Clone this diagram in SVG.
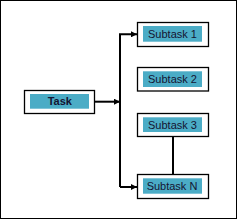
<svg xmlns="http://www.w3.org/2000/svg" width="237" height="219" viewBox="0 0 237 219">
<defs>
<style>
.box{fill:#fff;stroke:#000;stroke-width:1.3}
.fill{fill:#4BACC6}
.lbl{font-family:"Liberation Sans",Arial,sans-serif;font-size:11px;fill:#141432;text-anchor:middle}
.ln{fill:none;stroke:#000;stroke-width:2}
</style>
<marker id="ah" viewBox="0 0 6 6" refX="6" refY="3" markerWidth="6" markerHeight="6" markerUnits="userSpaceOnUse" orient="auto">
<path d="M0,0 L6,3 L0,6 z" fill="#000"/>
</marker>
</defs>
<rect x="0.5" y="0.5" width="236" height="218" fill="#fff" stroke="#000" stroke-width="1"/>
<g id="connectors">
<path class="ln" d="M94.5,101.7 H120" marker-end="url(#ah)"/>
<path class="ln" d="M120,187 V34.3 H137" marker-end="url(#ah)"/>
<path class="ln" d="M120,187 H137" marker-end="url(#ah)"/>
<path class="ln" d="M173,136.5 V174.5"/>
</g>
<g id="task">
<rect class="box" x="24.5" y="90.5" width="70" height="23"/>
<rect class="fill" x="30" y="94" width="59" height="14.7"/>
<text class="lbl" x="59.8" y="104.5" style="font-weight:bold;font-size:11px">Task</text>
</g>
<g id="subtask1">
<rect class="box" x="137.5" y="22.5" width="71" height="24"/>
<rect class="fill" x="143" y="26" width="59" height="15.7"/>
<text class="lbl" x="172.5" y="37.5">Subtask 1</text>
</g>
<g id="subtask2">
<rect class="box" x="137.5" y="67.5" width="71" height="23.5"/>
<rect class="fill" x="143" y="71.3" width="59" height="15.7"/>
<text class="lbl" x="172.5" y="82.5">Subtask 2</text>
</g>
<g id="subtask3">
<rect class="box" x="137.5" y="113.5" width="71" height="23"/>
<rect class="fill" x="143" y="117.3" width="59" height="14.7"/>
<text class="lbl" x="172.5" y="128.5">Subtask 3</text>
</g>
<g id="subtaskN">
<rect class="box" x="137.5" y="174.5" width="71" height="24"/>
<rect class="fill" x="143" y="178.3" width="59" height="15.4"/>
<text class="lbl" x="172" y="189.5">Subtask N</text>
</g>
</svg>
